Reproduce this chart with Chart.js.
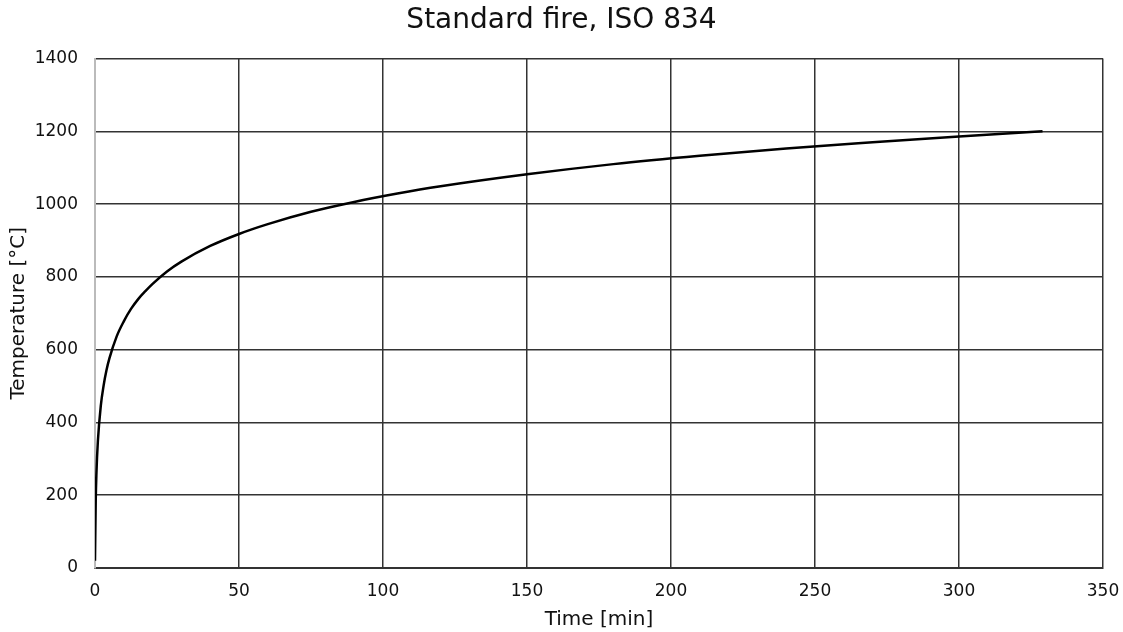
<!DOCTYPE html>
<html>
<head>
<meta charset="utf-8">
<script src="https://cdn.jsdelivr.net/npm/chart.js@4"></script>
<style>
  html, body { margin: 0; padding: 0; background: #fff; }
  #wrap { width: 1123px; height: 632px; }
</style>
</head>
<body>
<div id="wrap"><canvas id="fireChart" width="1123" height="632"></canvas></div>
<script>
// time [min] and temperature [°C]
const times = [0, 0.25, 0.5, 1, 2, 3, 4, 5, 7.5, 10, 12.5, 15, 17.5, 20, 25, 30, 40, 50, 60, 75, 90, 105, 120, 150, 180, 210, 240, 270, 300, 329];
const temps = [20, 185, 261, 349, 445, 502, 544, 576, 636, 678, 712, 739, 761, 781, 815, 842, 885, 918, 945, 979, 1006, 1029, 1049, 1082, 1110, 1133, 1153, 1170, 1186, 1200];
const xTicks = [0, 50, 100, 150, 200, 250, 300, 350];
const yTicks = [0, 200, 400, 600, 800, 1000, 1200, 1400];

const points = times.map((t, i) => ({ x: t, y: temps[i] }));
const fontFam = '"DejaVu Sans", Verdana, sans-serif';

const ctx = document.getElementById('fireChart').getContext('2d');
const fireChart = new Chart(ctx, {
    type: 'scatter',
    data: {
        datasets: [{
            label: 'ISO 834',
            data: points,
            showLine: true,
            borderColor: '#000',
            borderWidth: 2.5,
            pointRadius: 0,
            cubicInterpolationMode: 'monotone'
        }]
    },
    options: {
        responsive: false,
        animation: false,
        layout: { padding: { top: 4, right: 0, bottom: 0, left: 0 } },
        plugins: {
            legend: { display: false },
            tooltip: { enabled: false },
            title: {
                display: true,
                text: 'Standard fire, ISO 834',
                color: '#111',
                font: { family: fontFam, size: 28, weight: 'normal' },
                padding: { top: 0, bottom: 21 }
            }
        },
        scales: {
            x: {
                type: 'linear',
                min: 0,
                max: 350,
                afterBuildTicks: axis => { axis.ticks = xTicks.map(v => ({ value: v })); },
                afterFit: axis => {
                    axis.height = 64;
                    // keep the plot's right edge where the reference has it
                    axis.paddingRight = 20;
                    axis.paddingLeft = 0;
                },
                grid: { color: '#333', lineWidth: 1.5, drawTicks: false },
                border: { color: '#333', width: 2 },
                ticks: {
                    color: '#111', padding: 13,
                    font: { family: fontFam, size: 17 },
                    callback: v => String(v)
                },
                title: {
                    display: true,
                    text: 'Time [min]',
                    color: '#111',
                    font: { family: fontFam, size: 20 },
                    padding: { top: 7, bottom: 0 }
                }
            },
            y: {
                min: 0,
                max: 1400,
                afterBuildTicks: axis => { axis.ticks = yTicks.map(v => ({ value: v })); },
                afterFit: axis => { axis.width = 95; },
                grid: { color: '#333', lineWidth: 1.5, drawTicks: false },
                border: { color: '#bbb', width: 2 },
                ticks: {
                    color: '#111', padding: 17,
                    font: { family: fontFam, size: 17 },
                    callback: v => String(v)
                },
                title: {
                    display: true,
                    text: 'Temperature [°C]',
                    color: '#111',
                    font: { family: fontFam, size: 20 },
                    padding: { top: 7, bottom: 6 }
                }
            }
        }
    }
});
</script>
</body>
</html>
